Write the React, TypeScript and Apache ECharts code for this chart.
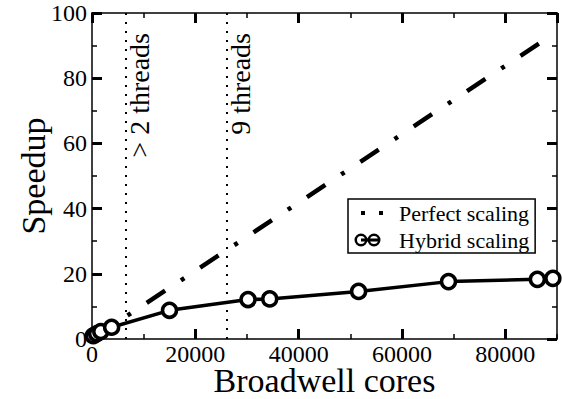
import React, { useEffect, useRef } from 'react';
import * as echarts from 'echarts';

// ---- data ----
const coresX = [250, 900, 1700, 3800, 15000, 30200, 34400, 51600, 69000, 86200, 89200];
const hybridSpeedup = [1.0, 1.6, 2.3, 3.6, 8.8, 12.1, 12.3, 14.6, 17.6, 18.3, 18.6];
const perfectSpeedup = [0.3, 0.9, 1.8, 4.0, 15.7, 31.6, 36.0, 54.0, 72.3, 90.3, 93.4];
const threadMarks = [6450, 26000];
const threadLabels = ['> 2 threads', '9 threads'];
const seriesNames = ['Perfect scaling', 'Hybrid scaling'];
const xRange = [0, 90000];
const xMajor = 20000;
const xMinor = 10000;
const yRange = [0, 100];
const yMajor = 20;

const FONT = 'Liberation Serif';

// two overlapping rings with a bar (legend icon), in a 44 x 14 box
const ring = (cx: number, cy: number, R: number, r: number) =>
  `M${cx + R},${cy} A${R},${R} 0 1 1 ${cx - R},${cy} A${R},${R} 0 1 1 ${cx + R},${cy} Z ` +
  `M${cx + r},${cy} A${r},${r} 0 1 0 ${cx - r},${cy} A${r},${r} 0 1 0 ${cx + r},${cy} Z `;
const hybridIcon =
  'path://M0,0 M44,14 ' +
  ring(11, 7, 6.5, 4.0) +
  ring(24, 7, 6.5, 4.0) +
  'M11,5.6 L28,5.6 L28,8.4 L11,8.4 Z';
const perfectIcon = 'path://M0,0 M44,14 M11,5 L15,5 L15,9 L11,9 Z M29,5 L33,5 L33,9 L29,9 Z';

const black = '#000';
const plain = (v: number) => String(v);

function xAxisDef(position: 'bottom' | 'top', major: boolean, withLabels: boolean) {
  return {
    type: 'value',
    position,
    min: xRange[0],
    max: xRange[1],
    interval: major ? xMajor : xMinor,
    axisLine: { show: major, onZero: false, lineStyle: { color: black, width: 1.5 } },
    axisTick: {
      show: true,
      inside: true,
      length: major ? 10 : 5,
      lineStyle: { color: black, width: major ? 3 : 1.5 },
    },
    axisLabel: {
      show: withLabels,
      margin: 3,
      fontSize: 24,
      fontFamily: FONT,
      color: black,
      showMaxLabel: false,
      formatter: plain,
    },
    splitLine: { show: false },
    ...(withLabels
      ? {
          name: 'Broadwell cores',
          nameLocation: 'middle',
          nameGap: 24,
          nameMoveOverlap: false,
          nameTextStyle: { fontSize: 34, fontFamily: FONT, color: black },
        }
      : {}),
  };
}

function yAxisDef(position: 'left' | 'right', withLabels: boolean) {
  return {
    type: 'value',
    position,
    min: yRange[0],
    max: yRange[1],
    interval: yMajor,
    axisLine: { show: true, onZero: false, lineStyle: { color: black, width: 1.5 } },
    axisTick: { show: true, inside: true, length: 10, lineStyle: { color: black, width: 3 } },
    minorTick: { show: true, splitNumber: 2, length: 5, lineStyle: { color: black, width: 1.5 } },
    axisLabel: { show: withLabels, margin: 5, fontSize: 24, fontFamily: FONT, color: black, formatter: plain },
    splitLine: { show: false },
    ...(withLabels
      ? {
          name: 'Speedup',
          nameLocation: 'middle',
          nameGap: 42,
          nameMoveOverlap: false,
          nameTextStyle: { fontSize: 34, fontFamily: FONT, color: black },
        }
      : {}),
  };
}

export default function App() {
  const ref = useRef<HTMLDivElement>(null);

  useEffect(() => {
    if (!ref.current) return;
    const chart = echarts.init(ref.current, null, { renderer: 'svg' });
    const option: any = {
      animation: false,
      backgroundColor: '#fff',
      color: [black, black],
      textStyle: { fontFamily: FONT },
      grid: { left: 92, right: 5, top: 13, bottom: 60, containLabel: false, outerBoundsMode: 'none' },
      xAxis: [
        xAxisDef('bottom', true, true),
        xAxisDef('bottom', false, false),
        xAxisDef('top', true, false),
        xAxisDef('top', false, false),
      ],
      yAxis: [yAxisDef('left', true), yAxisDef('right', false)],
      legend: {
        orient: 'vertical',
        left: 348,
        top: 199,
        padding: [3, 6, 2, 2],
        itemGap: 5,
        itemWidth: 44,
        itemHeight: 14,
        borderColor: black,
        borderWidth: 1.5,
        borderRadius: 0,
        backgroundColor: '#fff',
        selectedMode: false,
        textStyle: { fontSize: 22, fontFamily: FONT, color: black },
        data: [
          { name: seriesNames[0], icon: perfectIcon, itemStyle: { color: black, borderWidth: 0 } },
          { name: seriesNames[1], icon: hybridIcon, itemStyle: { color: black, borderWidth: 0 } },
        ],
      },
      series: [
        {
          name: seriesNames[0],
          type: 'line',
          xAxisIndex: 0,
          yAxisIndex: 0,
          data: coresX.map((x, i) => [x, perfectSpeedup[i]]),
          symbol: 'none',
          lineStyle: { color: black, width: 4.5, type: [22, 19, 4, 19], cap: 'butt' },
          markLine: {
            silent: true,
            symbol: ['none', 'none'],
            lineStyle: { color: black, width: 2, type: [2, 7] },
            label: {
              show: true,
              formatter: '{b}',
              position: 'insideEndBottom',
              distance: [20, 0.5],
              fontSize: 28,
              fontFamily: FONT,
              color: black,
            },
            emphasis: { disabled: true },
            data: threadMarks.map((v, i) => ({ xAxis: v, name: threadLabels[i] })),
          },
          z: 2,
        },
        {
          name: seriesNames[1],
          type: 'line',
          xAxisIndex: 0,
          yAxisIndex: 0,
          data: coresX.map((x, i) => [x, hybridSpeedup[i]]),
          symbol: 'circle',
          symbolSize: 14,
          itemStyle: { color: '#fff', borderColor: black, borderWidth: 3.5 },
          lineStyle: { color: black, width: 3.5 },
          z: 3,
        },
      ],
    };
    chart.setOption(option);
    return () => chart.dispose();
  }, []);

  return (
    <div
      ref={ref}
      style={{ position: 'fixed', left: 0, top: 0, width: 562, height: 399, background: '#fff' }}
    />
  );
}
